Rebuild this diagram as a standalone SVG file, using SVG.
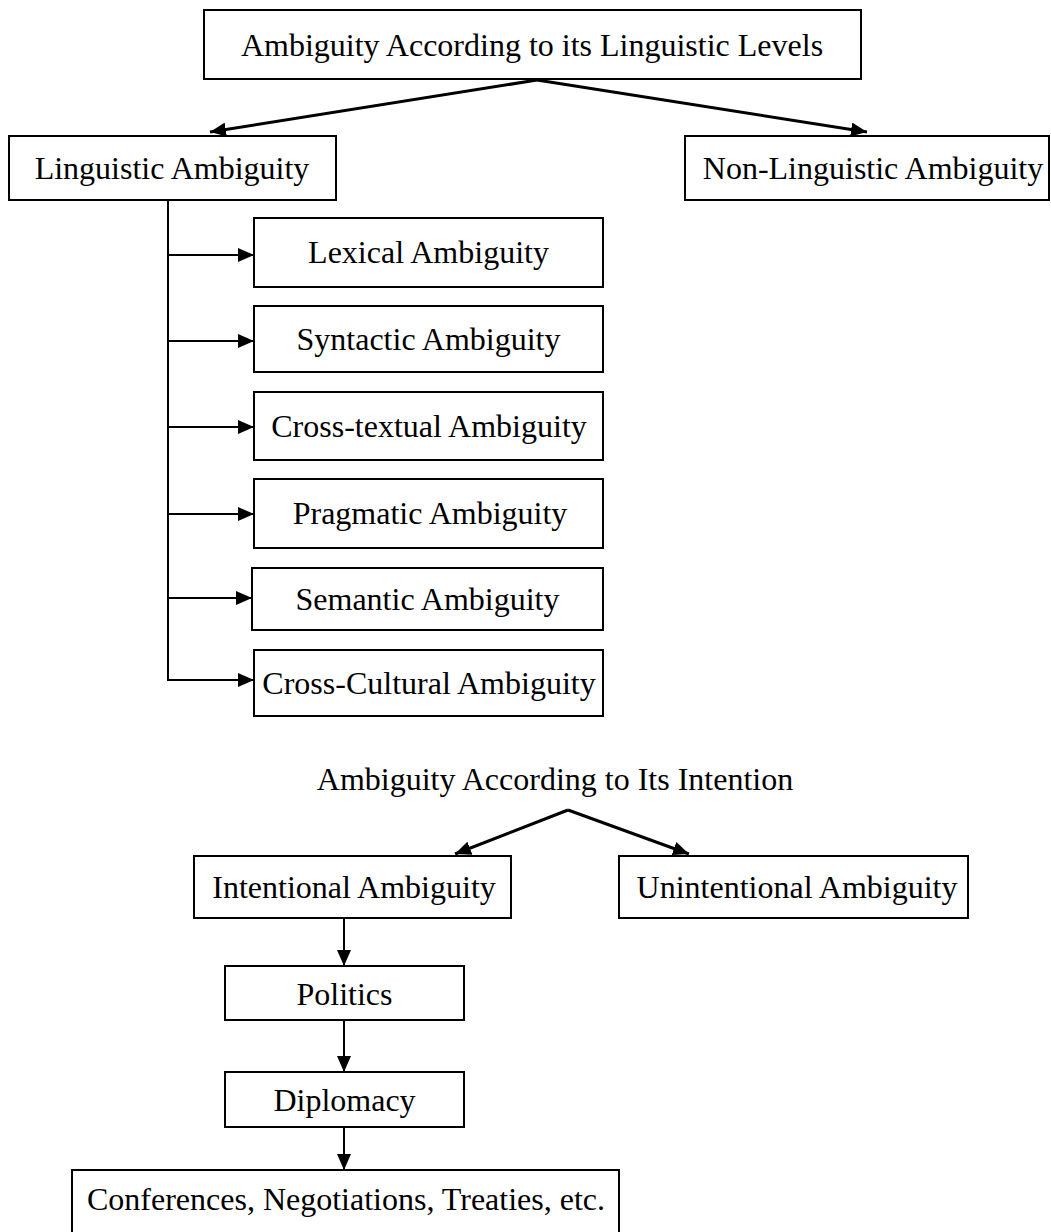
<svg xmlns="http://www.w3.org/2000/svg" width="1051" height="1232" viewBox="0 0 1051 1232">
<defs>
<marker id="ah" markerUnits="userSpaceOnUse" markerWidth="18" markerHeight="14" refX="16" refY="7" orient="auto">
<path d="M0,0 L16,7 L0,14 Z" fill="#000"/>
</marker>
<style>
.box{fill:#fff;stroke:#000;stroke-width:2}
.t{font-family:"Liberation Serif","Times New Roman",serif;font-size:32px;fill:#000;text-anchor:middle}
.c{fill:none;stroke:#000;stroke-width:2}
.ca{fill:none;stroke:#000;stroke-width:2;marker-end:url(#ah)}
.cd{fill:none;stroke:#000;stroke-width:3;marker-end:url(#ah)}
</style>
</defs>
<rect width="1051" height="1232" fill="#fff"/>
<g id="connectors">
<line class="cd" x1="537" y1="80" x2="210" y2="132"/>
<line class="cd" x1="537" y1="80" x2="867" y2="132"/>
<line class="c" x1="168" y1="200" x2="168" y2="680"/>
<line class="ca" x1="167" y1="255" x2="254" y2="255"/>
<line class="ca" x1="167" y1="341" x2="254" y2="341"/>
<line class="ca" x1="167" y1="427" x2="254" y2="427"/>
<line class="ca" x1="167" y1="514" x2="254" y2="514"/>
<line class="ca" x1="167" y1="598" x2="252" y2="598"/>
<line class="ca" x1="167" y1="680" x2="254" y2="680"/>
<line class="cd" x1="568" y1="810" x2="455" y2="854"/>
<line class="cd" x1="568" y1="810" x2="689" y2="854"/>
<line class="ca" x1="344" y1="918" x2="344" y2="966"/>
<line class="ca" x1="344" y1="1020" x2="344" y2="1072"/>
<line class="ca" x1="344" y1="1127" x2="344" y2="1170"/>
</g>
<g id="n-top"><rect class="box" x="204" y="10" width="657" height="69"/><text class="t" x="532" y="56">Ambiguity According to its Linguistic Levels</text></g>
<g id="n-ling"><rect class="box" x="9" y="136" width="327" height="64"/><text class="t" x="172" y="179">Linguistic Ambiguity</text></g>
<g id="n-nonling"><rect class="box" x="685" y="136" width="364" height="64"/><text class="t" x="873" y="179">Non-Linguistic Ambiguity</text></g>
<g id="n-lexical"><rect class="box" x="254" y="218" width="349" height="69"/><text class="t" x="428.5" y="263">Lexical Ambiguity</text></g>
<g id="n-syntactic"><rect class="box" x="254" y="306" width="349" height="66"/><text class="t" x="428.5" y="350">Syntactic Ambiguity</text></g>
<g id="n-crosstextual"><rect class="box" x="254" y="392" width="349" height="68"/><text class="t" x="429" y="437">Cross-textual Ambiguity</text></g>
<g id="n-pragmatic"><rect class="box" x="254" y="479" width="349" height="69"/><text class="t" x="430" y="524">Pragmatic Ambiguity</text></g>
<g id="n-semantic"><rect class="box" x="252" y="568" width="351" height="62"/><text class="t" x="427.5" y="610">Semantic Ambiguity</text></g>
<g id="n-crosscultural"><rect class="box" x="254" y="650" width="349" height="66"/><text class="t" x="429" y="694">Cross-Cultural Ambiguity</text></g>
<g id="n-intention-title"><text class="t" x="555" y="790">Ambiguity According to Its Intention</text></g>
<g id="n-intentional"><rect class="box" x="194" y="856" width="317" height="62"/><text class="t" x="354" y="898">Intentional Ambiguity</text></g>
<g id="n-unintentional"><rect class="box" x="619" y="856" width="349" height="62"/><text class="t" x="797" y="898">Unintentional Ambiguity</text></g>
<g id="n-politics"><rect class="box" x="225" y="966" width="239" height="54"/><text class="t" x="344.5" y="1005">Politics</text></g>
<g id="n-diplomacy"><rect class="box" x="225" y="1072" width="239" height="55"/><text class="t" x="344.5" y="1111">Diplomacy</text></g>
<g id="n-conferences"><rect class="box" x="72" y="1170" width="547" height="70"/><text class="t" x="346" y="1210">Conferences, Negotiations, Treaties, etc.</text></g>
</svg>
